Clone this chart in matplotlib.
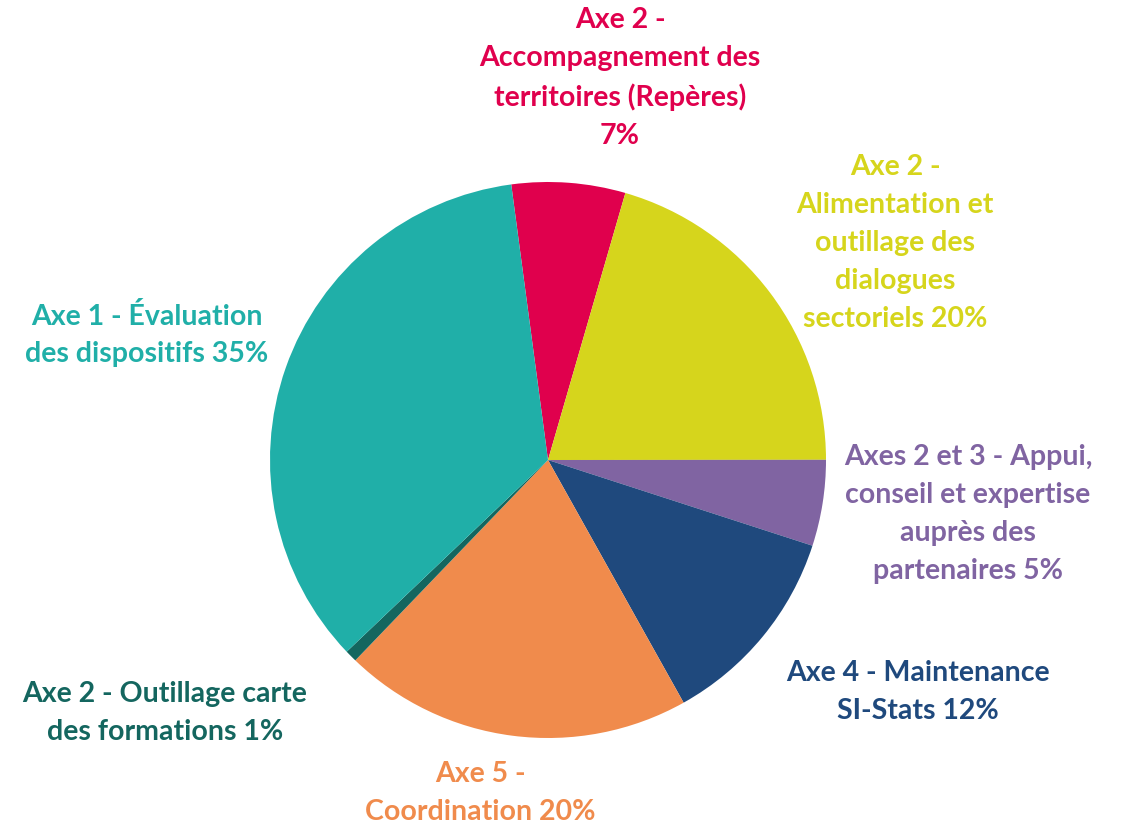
import matplotlib
matplotlib.use("Agg")
from matplotlib import pyplot as plt

# data
labels = ["Axe 2 -\nAccompagnement des\nterritoires (Repères)\n7%",
          "Axe 2 -\nAlimentation et\noutillage des\ndialogues\nsectoriels 20%",
          "Axes 2 et 3 - Appui,\nconseil et expertise\nauprès des\npartenaires 5%",
          "Axe 4 - Maintenance\nSI-Stats 12%",
          "Axe 5 -\nCoordination 20%",
          "Axe 2 - Outillage carte\ndes formations 1%",
          "Axe 1 - Évaluation\ndes dispositifs 35%"]
values = [6.6, 20.5, 5.0, 11.9, 20.3, 0.7, 35.0]
colors = ["#E0004D", "#D6D51C", "#8064A2", "#1F497D", "#F08B4C", "#14665F", "#20AFA8"]

# label centres (pixels in the 1130x826 picture)
label_px = [(620, 78), (895, 243), (968, 514), (918, 692), (480, 793), (165, 713), (147, 335)]

cx, cy, r = 548, 460, 278
W, H = 1130, 826

fig = plt.figure(figsize=(W / 100, H / 100), dpi=100)
ax = fig.add_axes([(cx - r) / W, (H - cy - r) / H, 2 * r / W, 2 * r / H])
ax.pie(values, colors=colors, startangle=97.6, counterclock=False, radius=1,
       wedgeprops=dict(linewidth=0))
ax.set_xlim(-1, 1); ax.set_ylim(-1, 1)
ax.set_aspect("equal")
ax.axis("off")

for txt, (px, py), c in zip(labels, label_px, colors):
    fig.text(px / W, 1 - py / H, txt, color=c, ha="center", va="center",
             multialignment="center", fontsize=20.5, fontweight="bold",
             family="Lato", linespacing=1.56)

fig.savefig("out.png", dpi=100)
